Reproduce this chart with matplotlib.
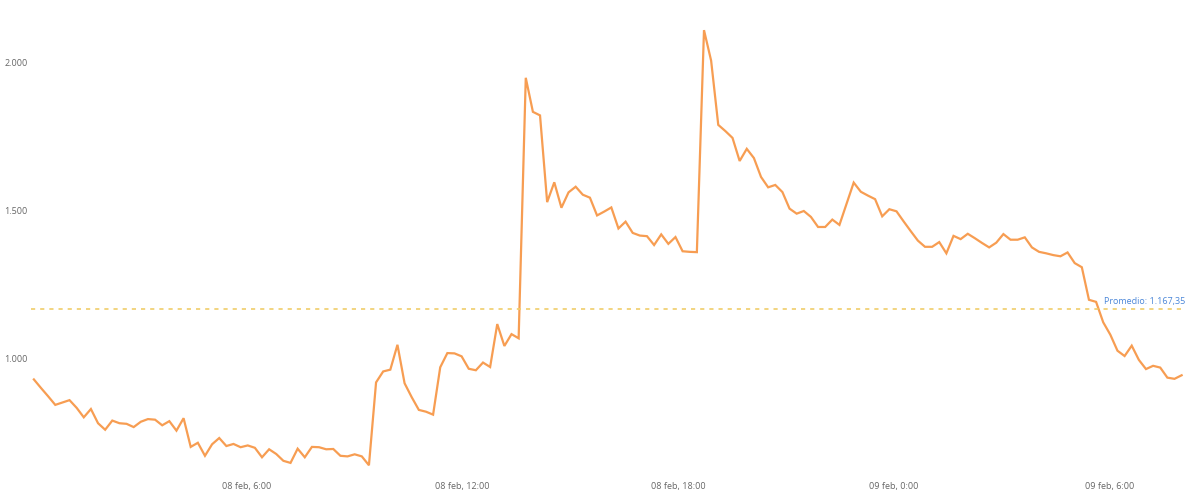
import numpy as np
import matplotlib
matplotlib.use("Agg")
import matplotlib.pyplot as plt

# readings about every 12 min from 08 feb 0:05 to 09 feb 8:00
values = [
    931, 902, 874, 845, 853, 861, 835, 803, 831, 783,
    761, 792, 783, 781, 770, 788, 797, 795, 776, 790,
    758, 800, 703, 717, 673, 712, 733, 706, 713, 702,
    708, 700, 668, 695, 679, 656, 649, 697, 668, 703,
    702, 695, 696, 673, 671, 678, 671, 641, 921, 958,
    964, 1048, 918, 871, 828, 822, 812, 972, 1020, 1019,
    1009, 967, 962, 988, 973, 1118, 1044, 1084, 1070, 1950,
    1835, 1823, 1530, 1597, 1511, 1563, 1582, 1555, 1545, 1485,
    1498, 1512, 1441, 1464, 1426, 1417, 1415, 1385, 1421, 1389,
    1412, 1364, 1362, 1361, 2111, 2008, 1791, 1770, 1747, 1669,
    1710, 1679, 1615, 1580, 1588, 1564, 1508, 1491, 1500, 1480,
    1446, 1446, 1471, 1453, 1524, 1596, 1565, 1552, 1540, 1482,
    1506, 1499, 1465, 1432, 1400, 1379, 1379, 1395, 1357, 1416,
    1405, 1423, 1408, 1392, 1377, 1393, 1422, 1403, 1403, 1411,
    1377, 1362, 1357, 1351, 1347, 1360, 1324, 1310, 1200, 1193,
    1124, 1082, 1028, 1010, 1045, 997, 966, 977, 971, 937,
    933, 945,
]
start_hour = 0.08      # hours after 08 feb 0:00
step_hour = 0.1983
average = 1167.35

tick_hours = [6, 12, 18, 24, 30]
tick_labels = ["08 feb, 6:00", "08 feb, 12:00", "08 feb, 18:00",
               "09 feb, 0:00", "09 feb, 6:00"]
ytick_values = [1000, 1500, 2000]
ytick_labels = ["1.000", "1.500", "2.000"]

hours = start_hour + step_hour * np.arange(len(values))

plt.rcParams["font.family"] = ["Open Sans", "DejaVu Sans"]

fig = plt.figure(figsize=(12, 4.93), dpi=100)
ax = fig.add_axes([31 / 1200, 15.6 / 493, 1154 / 1200, 473.6 / 493])

ax.plot(hours, values, color="#F79D52", lw=1.6, solid_joinstyle="miter")
ax.axhline(average, color="#F0CD6A", lw=1.2, ls=(0, (2.5, 3)))
ax.text(1.0, average + 12, "Promedio: 1.167,35", transform=ax.get_yaxis_transform(),
        ha="right", va="bottom", fontsize=6.5, color="#4A86D8")

ax.set_xlim(0, 32.1)
ax.set_ylim(600, 2200)
ax.set_xticks(tick_hours)
ax.set_xticklabels(tick_labels)
ax.set_yticks(ytick_values)
ax.set_yticklabels(ytick_labels, ha="left")
ax.tick_params(axis="both", length=0, labelsize=6.5, labelcolor="#666666")
ax.tick_params(axis="x", pad=3)
ax.tick_params(axis="y", pad=19)
for s in ax.spines.values():
    s.set_visible(False)

fig.savefig("out.png", dpi=100)
